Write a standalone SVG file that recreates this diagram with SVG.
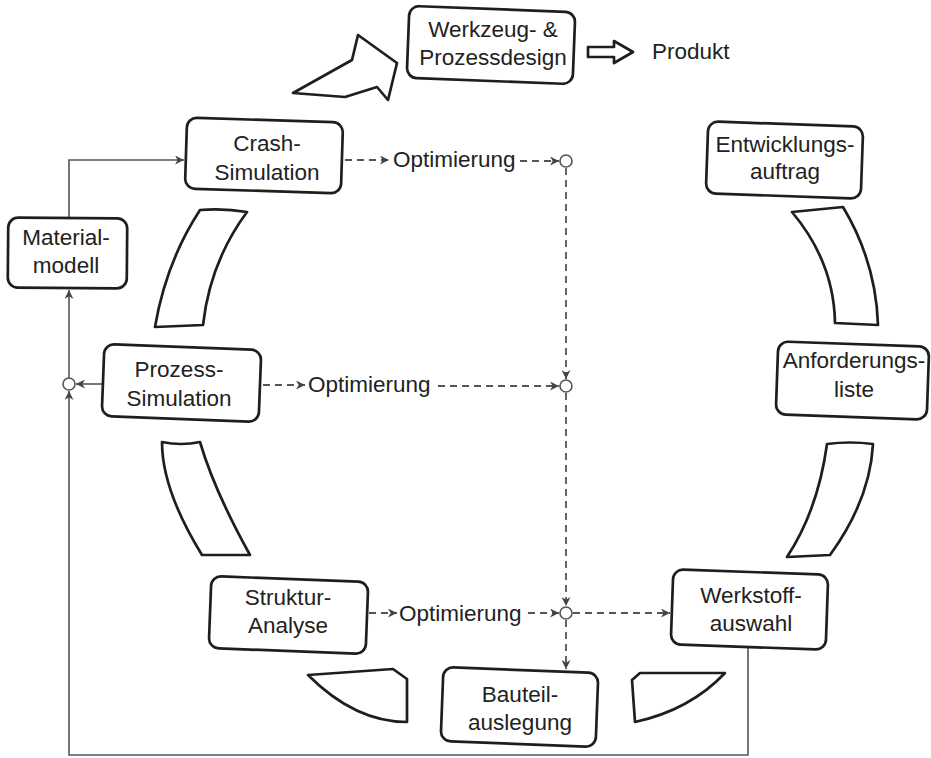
<svg xmlns="http://www.w3.org/2000/svg" width="931" height="758" viewBox="0 0 931 758">
<style>
.box{fill:#fff;stroke:#1e1e1e;stroke-width:2.7}
.band{fill:#fff;stroke:#1e1e1e;stroke-width:2.7;stroke-linejoin:round}
.t{font-family:"Liberation Sans",Arial,sans-serif;font-size:22.5px;fill:#222;text-anchor:middle}
.tl{font-family:"Liberation Sans",Arial,sans-serif;font-size:22.5px;fill:#222}
.sol{fill:none;stroke:#555;stroke-width:1.6}
.dash{fill:none;stroke:#555;stroke-width:1.8;stroke-dasharray:7 5}
.circ{fill:#fff;stroke:#555;stroke-width:1.6}
</style>
<defs>
<marker id="ah" viewBox="0 0 10 10" refX="10" refY="5" markerWidth="10" markerHeight="9" orient="auto" markerUnits="userSpaceOnUse">
<path d="M0,0 L10,5 L0,10 L3,5 z" fill="#444"/>
</marker>
</defs>

<g id="shapes">
<path class="band" d="M293,93 L352,60 L358,35 L397,63 L388,100 L377,87 L345,97 Z"/>
<path class="band" d="M588,47 L614,47 L614,41 L633,52 L614,63 L614,57 L588,57 Z" stroke-width="2"/>
<path class="band" d="M200,210 Q166,262 155,327 L203,325 Q210,262 247,212 Q224,208 200,210 Z"/>
<path class="band" d="M162,442 Q162,490 202,555 L250,555 Q214,490 200,442 Q181,446 162,442 Z"/>
<path class="band" d="M308,675 L393,669 L407,679 L407,722 Q355,722 308,675 Z"/>
<path class="band" d="M632,680 L640,673 L725,673 Q690,710 635,722 Z"/>
<path class="band" d="M792,212 L843,207 Q876,262 878,325 L835,323 Q834,262 792,212 Z"/>
<path class="band" d="M827,444 Q818,510 787,557 L830,555 Q870,500 873,444 Q850,441 827,444 Z"/>
</g>

<g id="connectors">
<polyline class="sol" points="69,218 69,160 184,160" marker-end="url(#ah)"/>
<line class="sol" x1="69" y1="378" x2="69" y2="290" marker-end="url(#ah)"/>
<line class="sol" x1="102" y1="384" x2="76" y2="384" marker-end="url(#ah)"/>
<polyline class="sol" points="748,647 748,755 69,755 69,391" marker-end="url(#ah)"/>
<circle class="circ" cx="69" cy="384" r="6"/>

<line class="dash" x1="345" y1="160" x2="389" y2="160" marker-end="url(#ah)"/>
<line class="dash" x1="520" y1="161" x2="559" y2="161" marker-end="url(#ah)"/>
<line class="dash" x1="263" y1="385" x2="305" y2="385" marker-end="url(#ah)"/>
<line class="dash" x1="438" y1="386" x2="559" y2="386" marker-end="url(#ah)"/>
<line class="dash" x1="369" y1="613" x2="397" y2="613" marker-end="url(#ah)"/>
<line class="dash" x1="528" y1="613" x2="559" y2="613" marker-end="url(#ah)"/>
<line class="dash" x1="573" y1="613" x2="670" y2="613" marker-end="url(#ah)"/>
<line class="dash" x1="566" y1="168" x2="566" y2="379" marker-end="url(#ah)"/>
<line class="dash" x1="566" y1="393" x2="566" y2="606" marker-end="url(#ah)"/>
<line class="dash" x1="566" y1="620" x2="566" y2="669" marker-end="url(#ah)"/>
<circle class="circ" cx="566" cy="161" r="6"/>
<circle class="circ" cx="566" cy="386" r="6"/>
<circle class="circ" cx="566" cy="613" r="6"/>
<text class="tl" x="393" y="167">Optimierung</text>
<text class="tl" x="308" y="392">Optimierung</text>
<text class="tl" x="399" y="621">Optimierung</text>
</g>

<g id="werkzeug">
<rect class="box" x="408" y="9" width="166" height="72" rx="10" transform="rotate(2.2 491 45)"/>
<text class="t" x="493" y="37">Werkzeug- &amp;</text>
<text class="t" x="493" y="65">Prozessdesign</text>
</g>
<g id="produkt">
<text class="tl" x="652" y="59">Produkt</text>
</g>
<g id="crash">
<rect class="box" x="186" y="120" width="156" height="71" rx="10" transform="rotate(1.8 264 155)"/>
<text class="t" x="267" y="151">Crash-</text>
<text class="t" x="267" y="180">Simulation</text>
</g>
<g id="material">
<rect class="box" x="8" y="218" width="119" height="70" rx="10" transform="rotate(0.5 67 253)"/>
<text class="t" x="66" y="245">Material-</text>
<text class="t" x="66" y="273">modell</text>
</g>
<g id="prozess">
<rect class="box" x="103" y="347" width="157" height="72" rx="10" transform="rotate(2.2 181 383)"/>
<text class="t" x="179" y="377">Prozess-</text>
<text class="t" x="179" y="406">Simulation</text>
</g>
<g id="struktur">
<rect class="box" x="210" y="579" width="157" height="72" rx="10" transform="rotate(2.2 288 615)"/>
<text class="t" x="288" y="605">Struktur-</text>
<text class="t" x="288" y="633">Analyse</text>
</g>
<g id="bauteil">
<rect class="box" x="442" y="670" width="155" height="74" rx="10" transform="rotate(2.2 519 707)"/>
<text class="t" x="520" y="702">Bauteil-</text>
<text class="t" x="520" y="730">auslegung</text>
</g>
<g id="werkstoff">
<rect class="box" x="672" y="572" width="155" height="75" rx="10" transform="rotate(2 749 609)"/>
<text class="t" x="751" y="603">Werkstoff-</text>
<text class="t" x="751" y="631">auswahl</text>
</g>
<g id="entwicklung">
<rect class="box" x="707" y="124" width="155" height="72" rx="10" transform="rotate(2 784 160)"/>
<text class="t" x="785" y="152">Entwicklungs-</text>
<text class="t" x="785" y="179">auftrag</text>
</g>
<g id="anforderung">
<rect class="box" x="777" y="344" width="151" height="73" rx="10" transform="rotate(2 852 380)"/>
<text class="t" x="854" y="368">Anforderungs-</text>
<text class="t" x="854" y="397">liste</text>
</g>
</svg>
